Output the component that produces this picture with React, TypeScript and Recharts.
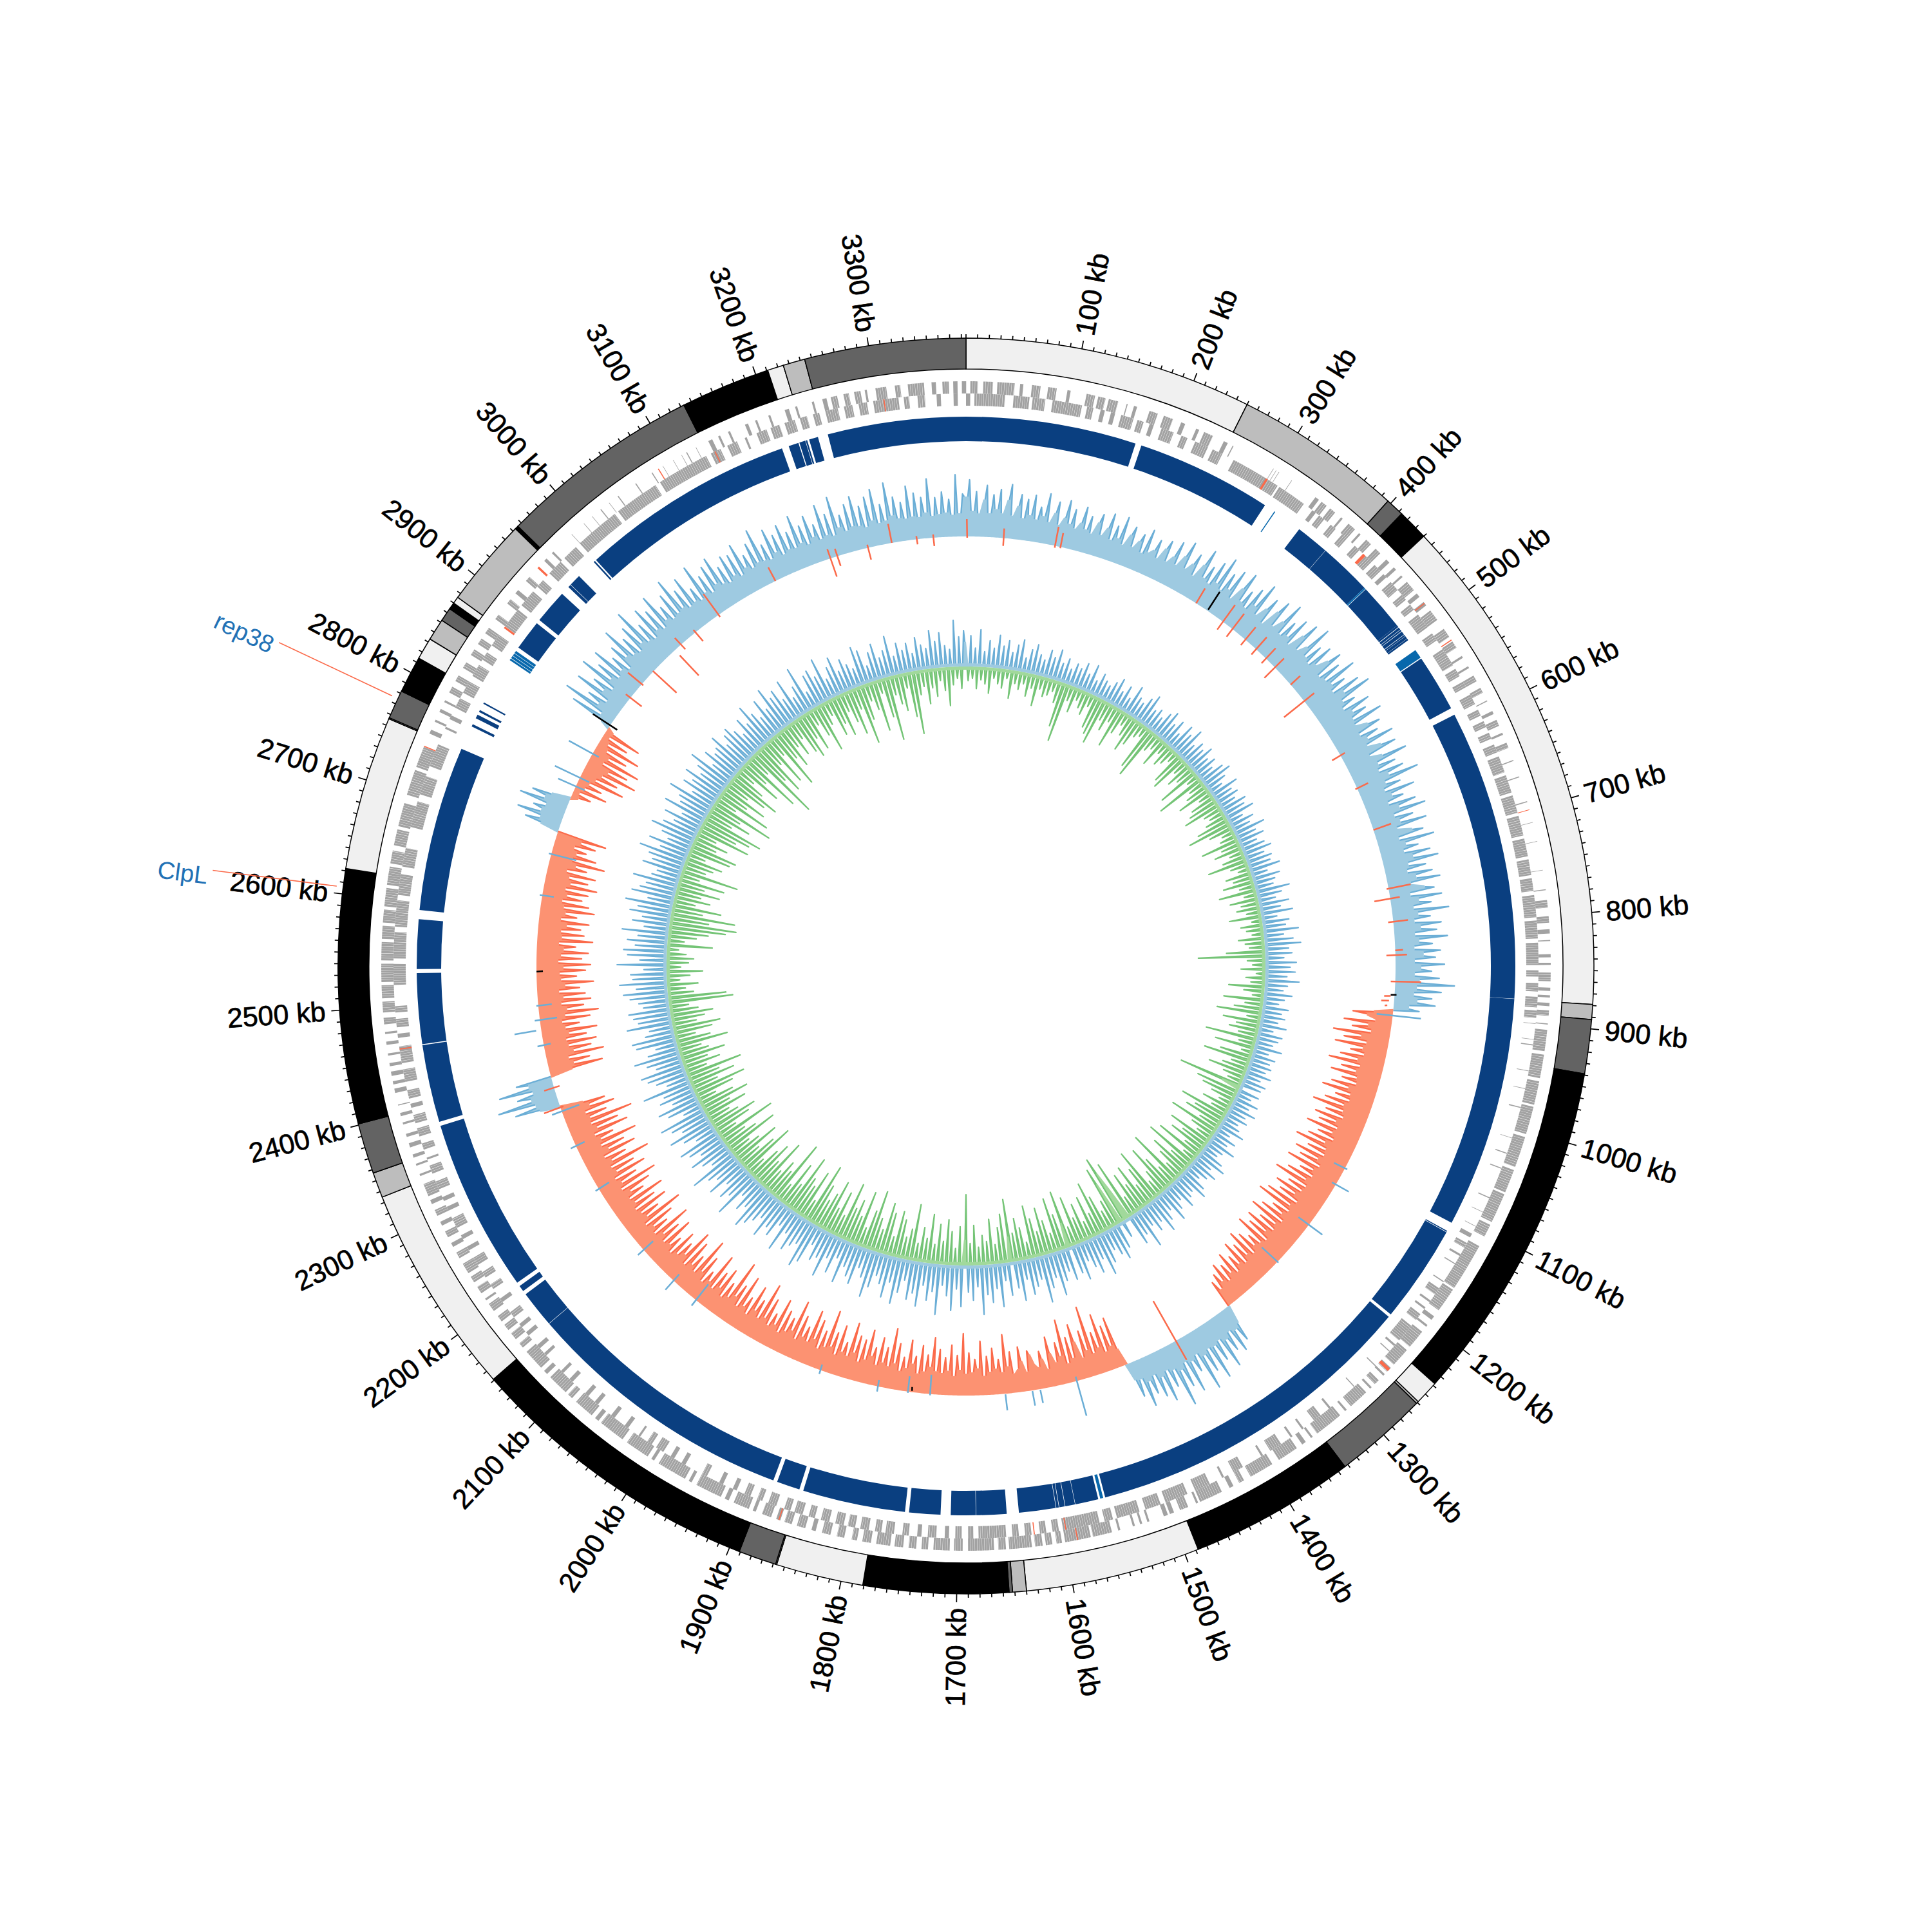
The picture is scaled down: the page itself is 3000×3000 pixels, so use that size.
import React from 'react';
import { PieChart, Pie, RadarChart, Radar, PolarAngleAxis, PolarRadiusAxis } from 'recharts';

const SIZE = 3000;
const GENOME_KB = 3384;
const BIN_KB = 4;
const FONT = '"Liberation Sans", Arial, sans-serif';

// Ideogram bands: end position (kb) and shade
const bandEnds = [250,397,413,440,879,892,939,1238,1259,1261,1343,1488,1640,1652,1655,1781,1857,1858,1891,2151,2335,2357,2401,2622,2756,2757,2782,2814,2833,2852,2864,2870,2876,2953,2956,3133,3211,3225,3244,3384];
const bandShades = ['#f0f0f0','#bdbdbd','#636363','#000000','#f0f0f0','#bdbdbd','#636363','#000000','#f0f0f0','#bdbdbd','#636363','#000000','#f0f0f0','#bdbdbd','#636363','#000000','#f0f0f0','#bdbdbd','#636363','#000000','#f0f0f0','#bdbdbd','#636363','#000000','#f0f0f0','#bdbdbd','#636363','#000000','#f0f0f0','#bdbdbd','#636363','#000000','#f0f0f0','#bdbdbd','#000000','#636363','#000000','#f0f0f0','#bdbdbd','#636363'];

// Conserved-block ring: on-intervals (kb), flat start,end pairs
const blockDark = [0,169, 175,310, 351,384, 384.3,437, 439,486, 486,488, 488.5,491, 491.4,493, 493.5,497, 497.5,499, 499.3,502, 502.3,504, 526,583, 590,878, 878.3,1108, 1117,1118, 1118.5,1216, 1219,1554, 1561,1584, 1584.4,1594, 1594.5,1600, 1600.5,1603, 1603.5,1640, 1652,1682, 1682.4,1707, 1717,1748, 1752,1854, 1858,1881, 1885,2156, 2156.4,2193, 2197,2203, 2207,2379, 2383,2460, 2461,2531, 2535,2584, 2593,2757, 2781,2783.5, 2790,2794, 2797,2799, 2806,2807.5, 2871,2901, 2905,2939, 2948,2951, 2951.4,2963, 2983,2984.5, 2986,3200, 3207,3217, 3218,3224, 3224.5,3226, 3228,3237, 3247,3384];
const blockLight = [321,322, 437,438.5, 516,525, 1556,1559, 2856,2858, 2858.5,2861, 2861.5,2864, 2864.4,2867];

// Gene tracks: on-intervals (kb), flat start,end pairs
const forwardGenes = [
4,11, 16,25, 29,45, 50,53, 61,69, 76,84, 94,97, 112,120, 123,130, 133,142, 150,151, 157,160, 172,180, 186,195, 203,207, 218,221, 226,235, 246,250, 255,256, 298,298.5, 301,301.5, 304,304.5, 318,318.5,
345,349, 352,358, 362,368, 375,377, 384,392, 397,399, 406,412, 418,424, 432,436, 442,445, 452,454, 460,470, 474,478, 484,488, 494,505, 515,524, 529,536, 545,547, 556,558, 566,572, 579,584, 592,593, 603,606, 612,618, 625,627, 635,640, 652,653, 668,669, 692,693, 712,712.5, 730,730.5, 757,757.5,
775,776, 785,792, 800,806, 812,816, 822,823, 835,838, 843,845, 852,860, 866,869, 873,875, 880,883, 887,892, 899,900,
905,925, 928,950, 953,975, 977,1003, 1006,1035, 1038,1060, 1062,1090, 1093,1105, 1115,1160, 1162,1185, 1192,1196, 1202,1204, 1210,1228, 1232,1250, 1254,1259, 1262,1264, 1270,1275, 1279,1281, 1286,1305, 1310,1312, 1318,1345, 1350,1352, 1358,1362, 1368,1388,
1395,1418, 1425,1430, 1436,1440, 1448,1470, 1472,1474, 1482,1490, 1496,1500, 1502,1506, 1520,1522, 1527,1529, 1534,1536, 1548,1550, 1556,1574, 1576,1600, 1603,1608, 1612,1618, 1621,1628, 1631,1652, 1655,1662, 1666,1690,
1695,1703, 1707,1722, 1727,1733, 1738,1745, 1750,1758, 1762,1775, 1780,1788, 1793,1798, 1805,1812, 1818,1826, 1832,1836, 1842,1850, 1855,1862, 1866,1870, 1875,1884, 1890,1893, 1897,1912, 1917,1921, 1925,1950, 1955,1958, 1962,1990, 1995,1998, 2002,2025, 2030,2055, 2058,2062, 2066,2085, 2090,2095, 2098,2118, 2122,2126, 2130,2150,
2155,2160, 2165,2172, 2176,2182, 2186,2192, 2198,2206, 2210,2212, 2218,2225, 2230,2236, 2240,2250, 2256,2262, 2268,2272, 2278,2284, 2290,2294, 2300,2306, 2312,2316, 2320,2332, 2340,2342, 2350,2352, 2358,2361, 2368,2372, 2378,2381, 2390,2392, 2398,2401, 2408,2409,
2420,2424, 2428,2431, 2436,2440, 2445,2448, 2455,2457, 2465,2468, 2475,2477, 2484,2490, 2495,2505, 2508,2520, 2523,2540, 2543,2560, 2563,2575, 2578,2590, 2593,2610, 2613,2630, 2633,2645, 2650,2665, 2668,2690, 2698,2722, 2725,2745, 2758,2762, 2770,2772, 2780,2783, 2790,2792, 2800,2806, 2812,2818, 2826,2832, 2840,2846, 2852,2858, 2864,2870,
2880,2885, 2898,2903, 2910,2914, 2925,2930, 2950,2953, 2960,2962, 2985,2985.5, 3000,3000.5, 3010,3010.5, 3020,3021, 3030,3030.5, 3040,3041, 3060,3061, 3078,3079, 3090,3090.5, 3101,3101.5, 3110,3110.5, 3115,3116, 3125,3125.5, 3138,3142, 3148,3150, 3158,3160, 3175,3178, 3185,3187, 3198,3200, 3214,3218, 3224,3226, 3240,3242, 3250,3254, 3258,3264, 3270,3275, 3280,3286, 3290,3292, 3300,3310, 3318,3323, 3330,3345, 3352,3356, 3362,3368, 3372,3376, 3380,3384];
const reverseGenes = [
0,4, 8,37, 45,60, 63,75, 82,110, 115,121, 128,132, 138,142, 148,160, 164,170, 176,180, 188,200, 208,214, 222,235, 240,250, 262,310, 312,340, 350,354, 358,364, 372,378, 386,392, 402,408, 416,424, 428,436, 440,444, 450,460, 466,472, 478,484, 490,505, 512,520,
530,548, 552,560, 566,572, 580,590, 596,602, 608,614, 620,626, 632,640, 644,660, 663,680, 683,700, 703,722, 725,742, 745,760, 763,775, 779,800, 803,820, 824,845, 850,856, 862,870, 875,885, 888,895,
900,900.5, 915,915.5, 920,921, 945,945.5, 962,962.5, 980,981, 1010,1010.5, 1025,1026, 1040,1041, 1070,1071, 1085,1085.5, 1100,1100.5, 1108,1112, 1118,1123, 1130,1132, 1140,1141, 1160,1161, 1168,1175, 1182,1184, 1190,1192, 1198,1205, 1212,1230, 1235,1237, 1243,1244, 1262,1263, 1290,1291, 1320,1322, 1332,1340, 1352,1354, 1365,1367, 1378,1390, 1398,1400, 1420,1430, 1440,1442, 1455,1470, 1478,1500, 1505,1520, 1526,1548, 1552,1560, 1565,1600, 1604,1610, 1616,1622, 1630,1636, 1642,1648, 1654,1680,
1685,1690, 1696,1702, 1708,1712, 1720,1728, 1734,1738, 1746,1752, 1760,1768, 1772,1778, 1784,1792, 1797,1804, 1808,1816, 1822,1830, 1836,1842, 1848,1856, 1860,1866, 1874,1882, 1888,1893, 1900,1906, 1914,1918, 1928,1932, 1945,1950, 1968,1972, 1980,1984, 1992,2000, 2005,2010, 2018,2020, 2032,2036, 2048,2052, 2068,2072, 2080,2084, 2100,2104, 2112,2115, 2135,2138, 2144,2148,
2160,2164, 2170,2174, 2182,2188, 2200,2204, 2215,2220, 2228,2234, 2242,2250, 2258,2262, 2270,2274, 2282,2292, 2300,2304, 2310,2314, 2322,2330, 2338,2346, 2352,2354, 2362,2368, 2375,2383, 2388,2396, 2403,2407, 2412,2420, 2428,2440, 2446,2462, 2470,2474, 2480,2488, 2494,2500,
2520,2540, 2545,2570, 2575,2600, 2605,2625, 2632,2650, 2670,2695, 2702,2720, 2730,2752, 2768,2770, 2778,2782, 2790,2800, 2806,2818, 2824,2836, 2842,2850, 2858,2870, 2880,2900, 2905,2922, 2928,2936, 2945,2960, 2965,2980, 2985,3028, 3032,3075, 3080,3130, 3135,3145, 3152,3162, 3170,3172, 3182,3192, 3196,3205, 3210,3220, 3225,3232, 3238,3244, 3250,3262, 3268,3276, 3282,3290, 3296,3320, 3325,3330, 3338,3345, 3356,3360, 3372,3376];
const forwardRedGenes = [485,486, 527,528, 700,700.6, 1255,1258, 1588,1589, 1867,1868, 2745,2746, 2941,2943, 3085,3086];
const reverseRedGenes = [297,299, 413,416, 1597,1598, 1627,1628, 2459,2460, 2878,2880, 3139,3140, 3306,3307];

// Outer histogram, values per 4 kb bin. Positive runs read outward, negative runs inward.
const outerPosA = [
62,88,40,70,36,58,80,37,66,44,75,38,60,84,36,52,70,34,64,40,
72,35,55,42,78,34,50,68,33,46,74,38,62,33,44,70,36,58,32,52,
66,34,48,72,32,56,38,74,31,50,64,33,46,58,30,70,35,42,60,32,
52,66,34,46,72,36,55,80,38,50,68,34,58,84,40,62,36,76,44,90,
38,70,46,82,36,60,88,42,64,38,76,50,92,40,58,78,36,66,86,44,
60,94,42,70,48,84,40,66,90,44,58,98,46,72,42,82,50,68,88,42,
76,46,96,50,70,44,88,58,100,48,66,42,84,52,72,46,92,44,62,80,
42,70,50,90,44,64,86,40,58,96,46,72,42,80,54,100,44,66,38,84,
46,62,36,78,50,90,38,66,44,84,36,58,74,34,88,42,60,36,76,48,
86,38,64,34,72,46,82,36,56,70,32,80,44,62,34,88,40,58,33,74,
42,66,32,82,38,58,30,70,44,62,30,76,40,56,30,68,38,92,34,72,
30,58,36,64,24,40];
const outerNegB = [
30,62,40,26,74,36,60,30,88,44,70,34,82,38,56,34,70,42,86,36,
64,40,78,36,58,34,72,44,84,38,60,36,74,42,90,40,66,36,80,44,
70,38,86,42,64,36,76,46,92,40,68,38,84,44,72,36,88,42,62,38,
78,44,94,38,66,40,82,46,70,36,86,42,96,38,64,44,78,36,90,42,
68,38,84,46,74,36,88,40,60,44,72,36,82,42,66,34,76,40,58,32,
70,38,56,30,64,36,52,28,44];
const outerPosC = [30,58,36,70,32,62,40,84,34,66,38,90,36,72,42,96,34,60,40,88,36,74,44,100,38,64,34,82,40,70,32,60,38,76,30,56,28];
const outerNegD = [
28,80,36,70,30,92,40,66,34,110,42,74,32,60,88,36,70,30,100,44,
66,36,52,78,28,46,58,34,40,56,62,30,48,70,36,30,64,42,92,34,
54,40,72,36,60,30,84,42,56,36,66,34,96,40,62,30,78,38,58,34,
70,36,88,42,60,34,74,30,56,44,80,36,52,30,72,40,94,34,62,38,
76,32,58,44,84,36,66,30,70,42,88,34,54,38,78,30,64,40,96,36,
60,30,74,42,86,34,56,38,70,30,90,40,58,34,66,28,80,36,52,30,
72,38,92,32,60,40,78,28,54,36,84,30,64,42,98,34,56,28,74,38,
62,30,86,36,50,28,70,40,94,32,58,38,76,30,88,42,60,34,72,28,
54,36,80,32,66,40,90,30,58,36,74,28,96,38,62,34,82,30,68,36,
88,32,60,40,76,30,92,36,64,30,84,38,70,34,100,40,66,32,86,44,
72,36,96,40,62,34,90,42,78,36,104,38,66,34,82,44,70,36,92,40];
const outerPosE = [32,70,36,94,40,60,34,86,38,56];
const outerNegF = [
36,84,40,66,34,90,44,72,38,82,36,68,42,86,38,60,34,78,40,92,
44,70,36,82,40,74,34,66,44,88,38,62,36,76,42,84,34,70,38,80,
42,60,34,86,38,72,36,66,44,78,34,58,40,84,36,74,32,62,38,70,
34,82,40,66,36,76,30,60,42,86,34,70,38,52,32,64,40,78];
const outerPosG = [30,56,34,72,36,50,32,76,38,60,30];
const outerNegH = [12,30,10,52,14,40,18,72,24,58,30,84,36,66,22,80,26,54,18,70,14,44,10,60,12];
const outerPosI = [
16,70,22,90,34,56,26,84,40,62,30,92,42,70,34,86,38,60,30,72,
46,94,40,68,36,80,44,100,38,66,34,86,42,74,36,92,44,64,38,78,
40,96,42,70,36,84,38,58,34,90,40,66,34,76,42,84,36,62,32,74,
38,70,32,82,40,58,34,72,38,90,36,60,33,80,40,66,32,78,36,62,
34,84,38,64,32,76,40,58,33,86,36,68,32,92,42,60,34,74,38,84,
36,66,32,78,40,88,34,62,36,94,42,70,36,60,34,84,36,72,34,64,
40,92,34,62,36,70,38,58,34,96,36,66];
const outerZones: [number, number, number[]][] = [
  [0, 1, outerPosA], [904, -1, outerNegB], [1340, 1, outerPosC], [1488, -1, outerNegD],
  [2360, 1, outerPosE], [2400, -1, outerNegF], [2712, 1, outerPosG], [2756, -1, outerNegH], [2856, 1, outerPosI],
];

// Isolated spikes crossing the outer baseline: position kb, top, bottom
const redSpikeKb = [1,47,112,119,304,345,360,381,399,416,432,461,488,570,616,672,748,761,790,826,832,865,884,890,896,2357,2383,2901,2923,2945,2983,2993,3017,3053,3136,3211,3220,3260,3290,3322,3343,1417];
const redSpikeTop = [27,15,30,22,27,32,30,25,25,22,20,20,20,8,19,29,35,15,23,12,18,40,-6,-8,-10,27,16,9,28,1,-11,14,5,40,24,15,12,5,30,5,5,34];
const redSpikeLow = [-2,-12,-3,-2,0,-15,-15,-11,-11,-10,-23,0,-40,-15,-3,0,-3,-25,-8,0,-14,-7,-16,-20,-14,-5,-9,-22,-3,-49,-54,-10,-18,-4,0,-30,-16,-19,0,-8,-13,-71];
const blueSpikeKb = [908,1110,1133,1194,1255,1551,1598,1608,1642,1737,1765,1803,1878,2058,2095,2149,2244,2305,2352,2438,2457,2470,2488,2627,2680,2770,2782,2816];
const blueSpikeTop = [44,4,23,26,2,56,22,24,26,2,2,8,6,11,19,12,6,9,16,10,42,8,3,4,4,30,43,42];
const blueSpikeLow = [-25,-19,-7,-20,-33,-7,1,1,1,-30,-24,-10,-9,-31,-13,-20,-19,-15,-29,-11,8,-27,-21,-18,-40,-15,-16,-11];
const blackSpikeKb = [321,2858,2531,882,1760];
const blackSpikeTop = [35,32,0,3,-2];
const blackSpikeLow = [2,-13,-10,-6,-8];

// Inner histogram, values per 4 kb bin (positive outward, negative inward)
const innerValues = [
48,-22,60,-18,36,-34,72,-20,30,-26,52,-40,38,-16,64,-24,44,-30,56,-14,
34,-44,50,-20,62,-28,28,-18,46,-36,58,-22,40,-48,32,-20,54,-30,42,-26,
60,-18,36,-34,48,-70,30,-92,44,-24,38,-40,52,-18,34,-28,56,-36,28,-20,
46,-52,36,-60,30,-72,42,-30,54,-44,32,-26,48,-64,28,-38,58,-20,40,-34,
34,-56,50,-42,62,-24,36,-18,44,-70,32,-82,48,-30,58,-22,38,-46,52,-20,
30,-36,56,-28,44,-18,62,-52,34,-60,48,-24,40,-42,54,-30,36,-66,46,-20,
32,-78,50,-26,60,-36,42,-54,28,-22,56,-40,38,-48,46,-60,34,-30,52,-24,
44,-34,58,-52,30,-70,48,-38,36,-20,62,-26,40,-60,52,-30,34,-44,46,-22,
56,-36,38,-62,50,-28,44,-18,60,-40,32,-30,54,-48,42,-24,36,-58,66,-20,
48,-44,34,-28,58,-36,40,-22,62,-50,30,-16,52,-34,44,-26,68,-18,38,-40,
56,-30,70,-24,46,-60,52,-104,36,-28,60,-20,48,-38,58,-14,42,-30,66,-22,
44,-56,36,-32,54,-18,40,-62,30,-28,50,-44,38,-70,46,-22,34,-58,52,-36,
28,-46,48,-30,42,-80,34,-26,54,-62,30,-18,46,-50,38,-74,44,-28,36,-40,
50,-60,32,-34,46,-24,40,-100,-30,42,-68,30,-56,48,-38,34,-22,52,-46,36,
-28,44,-76,30,-50,38,-62,52,-34,28,-80,46,-40,34,-26,56,-70,36,-44,30,
-60,48,-30,60,-74,36,-22,54,-84,42,-36,30,-66,50,-48,62,-28,38,-90,44,
-32,58,-54,34,-78,48,-40,66,-26,36,-86,52,-60,70,-34,42,-72,56,-44,38,
-66,78,-30,46,-94,60,-52,-84,-110,34,-70,-96,50,-44,68,-30,54,-58,40,-84,
62,-36,82,-66,46,-28,70,-60,54,-40,38,-76,72,-30,56,-90,-40,64,-56,44,
-84,60,-30,86,-52,48,-74,66,-38,92,-60,44,-82,56,-26,70,-50,38,-66,78,
-44,52,-98,-40,64,-76,34,-56,84,-30,48,-70,74,-36,58,-46,96,-28,42,-62,
68,-34,52,-110,-40,80,-60,46,-26,88,-52,60,-70,40,-36,98,-62,54,-30,72,
-76,44,-38,86,-54,62,-28,76,-88,40,-48,66,-34,90,-60,50,-72,82,-30,58,
-66,44,-80,70,-36,92,-52,56,-94,40,-60,76,-30,64,-86,48,-44,84,-68,38,
-52,72,-90,46,-34,88,-70,54,-40,64,-82,36,-58,78,-44,92,-66,50,-96,60,
-32,74,-78,44,-50,86,-60,38,-92,68,-40,56,-72,82,-30,48,-100,62,-46,76,
-58,90,-36,52,-84,66,-44,40,-70,94,-54,58,-30,72,-88,46,-62,80,-38,54,
-76,68,-48,96,-34,44,-86,60,-56,78,-40,50,-94,70,-32,84,-60,42,-74,64,
-48,88,-36,56,-68,74,-44,92,-78,38,-56,66,-30,82,-62,48,-84,70,-42,58,
-72,96,-50,44,-88,62,-34,76,-58,86,-40,52,-70,68,-46,90,-36,60,-80,42,
-54,78,-32,84,-60,56,-74,46,-38,88,-52,64,-66,72,-44,80,-30,50,-100,58,
-90,74,-40,86,-28,60,-48,92,-20,66,-36,70,-56,44,-22,96,-34,52,-42,76,
-30,84,-18,62,-70,78,-26,58,-44,90,-62,48,-88,72,-104,54,-60,80,-100,66,
-48,92,-76,50,-34,84,-56,70,-40,60,-68,88,-42,54,-72,46,-30,78,-90,62,
-36,72,-46,94,-58,56,-28,82,-66,48,-74,64,-38,90,-54,70,-32,52,-84,76,
-60,44,-80,86,-96,58,-42,66,-70,92,-50,48,-100,74,-34,60,-88,82,-46,54,
-74,68,-38,90,-66,46,-84,72,-52,56,-30,62,-72,80,-44,50,-96,66,-36,74,
-120,58,-62,42,-86,70,-40,52,-78,84,-32,60,-92,44,-48,76,-66,50,-36,88,
-54,62,-30,72,-58,46,-70,80,-42,38,-64,56,-26,90,-48,34,-76,64,-36,70,
-24,52,-60,84,-44,38,-66,58,-30,74,-50,42,-72,62,-34,48,-92,36,-56,76,
-28,66,-44,32,-80,56,-22,70,-62,40,-100,52,-30,78,-46,36,-58,60,-24,44,
-70,56,-98,34,-38,64,-26,48,-54,40,-30,74,-44,52,-20,68,-36,42,-60,34,
-28,90,-18,58,-34,70];
const INNER_OUT_GAIN = 0.8;
const INNER_BAND = 5;

// Axis
const minorTickKb = Array.from({ length: 339 }, (_, i) => i * 10);
const noteKb = [2606, 2775];
const noteNames: Record<number, string> = { 2606: 'ClpL', 2775: 'rep38' };

const COLORS = {
  block: '#0a3f80', blockLight: '#0868ac', gene: '#a2a2a2', geneRed: '#fb6a4a',
  blueFill: '#9ecae1', blueLine: '#6baed6', redFill: '#fc9272', redLine: '#fb6a4a',
  greenFill: '#a1d99b', greenLine: '#74c476', note: '#2171b5',
};

const gapSector = (len: number) => ({ len, fill: 'none', stroke: 'none' });
const HATCH_ON = 2, HATCH_OFF = 0.22;
const intervalsToSectors = (flat: number[], fill: string, hatch = false) => {
  const out: any[] = [];
  let pos = 0;
  for (let i = 0; i + 1 < flat.length; i += 2) {
    const a = flat[i], b = flat[i + 1];
    if (a > pos) out.push(gapSector(a - pos));
    if (hatch && b - a > 4) {
      let p = a;
      while (p < b) {
        const e = Math.min(p + HATCH_ON, b);
        out.push({ len: e - p, fill, stroke: 'none' });
        p = e;
        if (p < b) {
          const g = Math.min(HATCH_OFF, b - p);
          out.push(gapSector(g));
          p += g;
        }
      }
    } else {
      out.push({ len: Math.max(b - a, 0.01), fill, stroke: 'none' });
    }
    pos = Math.max(pos, b);
  }
  if (pos < GENOME_KB) out.push(gapSector(GENOME_KB - pos));
  return out;
};

const bandSectors = bandEnds.map((end, i) => ({
  len: end - (i === 0 ? 0 : bandEnds[i - 1]), fill: bandShades[i], stroke: '#000',
}));

const rings: { data: any[]; inner: number; outer: number; sw?: number }[] = [
  { data: bandSectors, inner: 927, outer: 975, sw: 1.5 },
  { data: intervalsToSectors(blockDark, COLORS.block), inner: 815, outer: 853 },
  { data: intervalsToSectors(blockLight, COLORS.blockLight), inner: 815, outer: 853 },
  { data: intervalsToSectors(forwardGenes, COLORS.gene, true), inner: 889, outer: 908 },
  { data: intervalsToSectors(reverseGenes, COLORS.gene, true), inner: 870, outer: 889 },
  { data: intervalsToSectors(forwardRedGenes, COLORS.geneRed), inner: 889, outer: 908 },
  { data: intervalsToSectors(reverseRedGenes, COLORS.geneRed), inner: 870, outer: 889 },
];

const binCount = Math.ceil(GENOME_KB / BIN_KB);
const outerSigned: number[] = new Array(binCount).fill(0);
outerZones.forEach(([start, sign, vals]) => {
  vals.forEach((v, i) => {
    const idx = Math.round(start / BIN_KB) + i;
    if (idx < binCount) outerSigned[idx] = sign * v;
  });
});
const innerSigned = innerValues.slice(0, binCount);

// One table per direction: each read value becomes a narrow peak over its neighbouring low values.
const toRows = (signed: number[], dir: 1 | -1, gain: number, floor: number, halfWidth: number) => {
  const m = signed.map((v) => (v * dir > 0 ? Math.max(Math.abs(v) * gain, floor) : floor));
  const n = m.length;
  const rows: any[] = [];
  const put = (kb: number, mag: number, line: boolean) => {
    const val = dir * mag;
    rows.push({ kb, band: dir > 0 ? [0, val] : [val, 0], line: line ? val : null });
  };
  for (let i = 0; i < n; i++) {
    const k = i * BIN_KB;
    const prev = m[(i - 1 + n) % n];
    const next = m[(i + 1) % n];
    if (m[i] > prev && m[i] >= next && m[i] > floor) {
      put(Math.max(k - halfWidth, 0), prev, true);
      put(k, m[i], true);
      put(k + halfWidth, next, true);
      put(k + halfWidth + 0.02, next, false);
    } else {
      put(k, m[i], false);
    }
  }
  put(GENOME_KB, m[0], false);
  return rows;
};
const outerUpRows = toRows(outerSigned, 1, 1, 0, 1.9);
const outerDownRows = toRows(outerSigned, -1, 1, 0, 1.9);
const innerUpRows = toRows(innerSigned, 1, INNER_OUT_GAIN, INNER_BAND, 1.9);
const innerDownRows = toRows(innerSigned, -1, 1, INNER_BAND, 1.9);

// Spike table
const spikeRows: any[] = [];
const addSpikes = (key: string, kb: number[], top: number[], low: number[]) => {
  const blank = { red: null, blue: null, black: null };
  kb.forEach((k, i) => {
    spikeRows.push({ ...blank, kb: k, [key]: top[i] });
    spikeRows.push({ ...blank, kb: k + 0.5, [key]: low[i] });
    spikeRows.push({ ...blank, kb: k + 0.6 });
  });
};
addSpikes('red', redSpikeKb, redSpikeTop, redSpikeLow);
addSpikes('blue', blueSpikeKb, blueSpikeTop, blueSpikeLow);
addSpikes('black', blackSpikeKb, blackSpikeTop, blackSpikeLow);
spikeRows.sort((a, b) => a.kb - b.kb);

// Radar points come from the library's scales; rows without a value only break the stroke.
const brokenLine = (stroke: string, width: number) => (props: any) => {
  let d = '';
  let open = false;
  (props.points || []).forEach((p: any) => {
    if (p.value === null || p.value === undefined) {
      open = false;
      return;
    }
    d += `${open ? 'L' : 'M'}${p.x.toFixed(2)},${p.y.toFixed(2)}`;
    open = true;
  });
  return <path d={d} fill="none" stroke={stroke} strokeWidth={width} strokeLinejoin="round" />;
};

const RAD = Math.PI / 180;
const pt = (cx: number, cy: number, r: number, a: number) => ({
  x: cx + r * Math.cos(-a * RAD),
  y: cy + r * Math.sin(-a * RAD),
});

const renderTick = (props: any) => {
  const { cx, cy, payload } = props;
  const kb = payload.value;
  const a = payload.coordinate;
  const theta = ((90 - a) % 360 + 360) % 360;
  const left = theta > 180;
  const rot = left ? theta + 90 : theta - 90;
  if (noteNames[kb]) {
    const p0 = pt(cx, cy, 985, a);
    const p1 = pt(cx, cy, 1179, a);
    const t = pt(cx, cy, 1186, a + 0.45);
    return (
      <g>
        <line x1={p0.x} y1={p0.y} x2={p1.x} y2={p1.y} stroke={COLORS.redLine} strokeWidth={1.6} />
        <text x={t.x} y={t.y} transform={`rotate(${rot} ${t.x} ${t.y})`} textAnchor="end" dominantBaseline="central"
          fontFamily={FONT} fontSize={38} fill={COLORS.note}>{noteNames[kb]}</text>
      </g>
    );
  }
  const major = kb % 100 === 0 && kb > 0;
  const p0 = pt(cx, cy, 975, a);
  const p1 = pt(cx, cy, major ? 988 : 981, a);
  const t = pt(cx, cy, 997, a);
  return (
    <g>
      <line x1={p0.x} y1={p0.y} x2={p1.x} y2={p1.y} stroke="#000" strokeWidth={1.7} />
      {major && (
        <text x={t.x} y={t.y} transform={`rotate(${rot} ${t.x} ${t.y})`} textAnchor={left ? 'end' : 'start'}
          dominantBaseline="central" fontFamily={FONT} fontSize={43} fill="#000" stroke="#000" strokeWidth={0.7}>{`${kb} kb`}</text>
      )}
    </g>
  );
};

const layer: React.CSSProperties = { position: 'absolute', left: 0, top: 0, width: SIZE, height: SIZE };
const zero = { top: 0, left: 0, right: 0, bottom: 0 };
const noAnim = { isAnimationActive: false as const };

const angleAxis = (extra: any = {}) => (
  <PolarAngleAxis dataKey="kb" type="number" domain={[0, GENOME_KB]} tick={false} tickLine={false} axisLine={false} {...extra} />
);
const radiusAxis = (base: number) => (
  <PolarRadiusAxis type="number" domain={[-base, 1000 - base]} tick={false} axisLine={false} />
);

const SpikeLayer = ({ rows, base, fill, stroke, width }: any) => (
  <div style={layer}>
    <RadarChart width={SIZE} height={SIZE} data={rows} cx={1500} cy={1500} innerRadius={0} outerRadius={1000}
      startAngle={90} endAngle={-270} margin={zero}>
      {angleAxis()}
      {radiusAxis(base)}
      <Radar dataKey="band" fill={fill} fillOpacity={1} stroke="none" dot={false} {...noAnim} />
      <Radar dataKey="line" shape={brokenLine(stroke, width)} dot={false} {...noAnim} />
    </RadarChart>
  </div>
);

export default function App() {
  return (
    <div style={{ position: 'absolute', left: 0, top: 0, width: SIZE, height: SIZE, background: '#fff' }}>
      <div style={layer}>
        <PieChart width={SIZE} height={SIZE} margin={zero}>
          {rings.map((r, i) => (
            <Pie key={i} data={r.data} dataKey="len" cx={1500} cy={1500} innerRadius={r.inner} outerRadius={r.outer}
              startAngle={90} endAngle={-270} strokeWidth={r.sw ?? 0} {...noAnim} />
          ))}
        </PieChart>
      </div>
      <SpikeLayer rows={outerUpRows} base={667} fill={COLORS.blueFill} stroke={COLORS.blueLine} width={2.3} />
      <SpikeLayer rows={outerDownRows} base={667} fill={COLORS.redFill} stroke={COLORS.redLine} width={2.3} />
      <SpikeLayer rows={innerUpRows} base={465} fill={COLORS.blueFill} stroke={COLORS.blueLine} width={2.2} />
      <SpikeLayer rows={innerDownRows} base={465} fill={COLORS.greenFill} stroke={COLORS.greenLine} width={2.2} />
      <div style={layer}>
        <RadarChart width={SIZE} height={SIZE} data={spikeRows} cx={1500} cy={1500} innerRadius={0} outerRadius={1000}
          startAngle={90} endAngle={-270} margin={zero}>
          {angleAxis({ tick: renderTick, ticks: [...minorTickKb, ...noteKb] })}
          {radiusAxis(667)}
          <Radar dataKey="red" shape={brokenLine(COLORS.redLine, 2.5)} dot={false} {...noAnim} />
          <Radar dataKey="blue" shape={brokenLine(COLORS.blueLine, 2.5)} dot={false} {...noAnim} />
          <Radar dataKey="black" shape={brokenLine('#000', 2.5)} dot={false} {...noAnim} />
        </RadarChart>
      </div>
    </div>
  );
}
